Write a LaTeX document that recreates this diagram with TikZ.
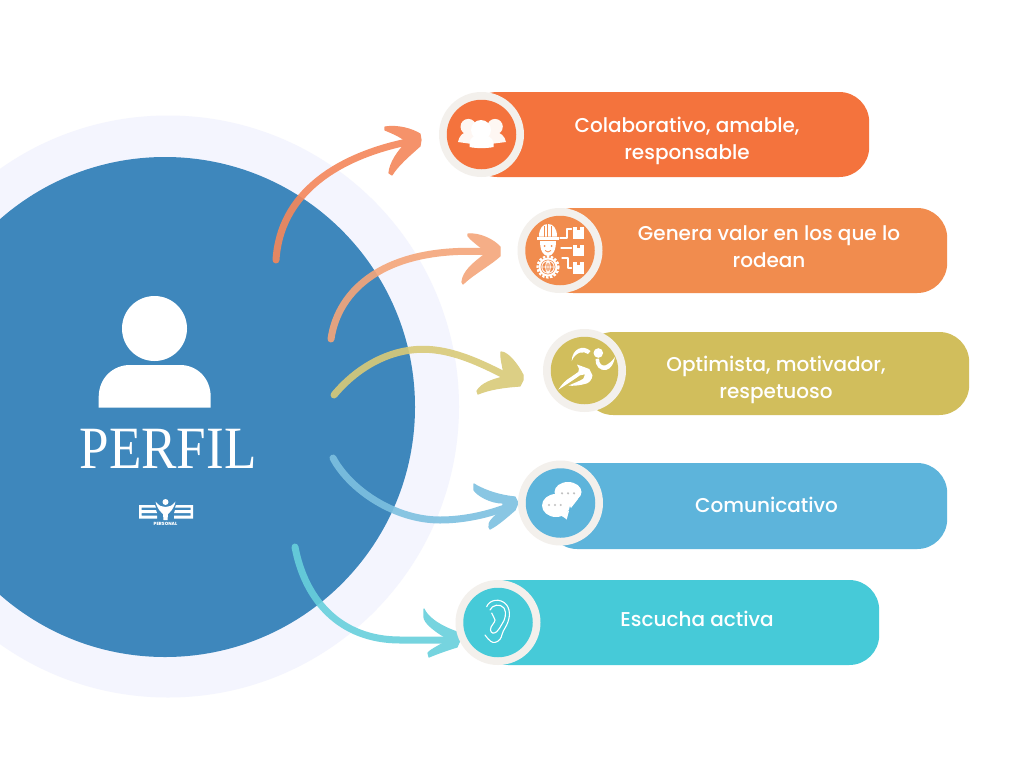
\documentclass[tikz,border=0pt]{standalone}
\usepackage{fontspec}
\setmainfont{Poppins Medium}
\newfontfamily\slabfont{Liberation Serif}
\usetikzlibrary{calc}
\definecolor{paleC}{HTML}{F4F5FE}
\definecolor{blueC}{HTML}{3E87BC}
\definecolor{ringC}{HTML}{F3F0EC}
\definecolor{pillA}{HTML}{F4733D}
\definecolor{pillB}{HTML}{F18C4E}
\definecolor{pillC}{HTML}{D1BE5C}
\definecolor{pillD}{HTML}{5DB4DB}
\definecolor{pillE}{HTML}{46CAD8}
\definecolor{arrA}{HTML}{F5875A}
\definecolor{arrB}{HTML}{F4A67A}
\definecolor{arrC}{HTML}{D9CA78}
\definecolor{arrD}{HTML}{7DC0E0}
\definecolor{arrE}{HTML}{68D0DC}
\tikzset{
  x=1pt,y=-1pt,
  pill/.style={rectangle,rounded corners=30pt,inner sep=0pt,minimum height=#1,anchor=west},
  ring/.style={circle,fill=ringC,inner sep=0pt,minimum size=85pt},
  disc/.style={circle,inner sep=0pt,minimum size=69.5pt},
  label/.style={text=white,font=\fontsize{20}{27}\selectfont,align=center,inner sep=0pt},
  shaft/.style={line width=7pt,line cap=round},
  headfill/.style={fill=#1,draw=#1,line width=1.2pt,line join=round},
  iconline/.style={draw=white,line width=1.1pt,line cap=round,line join=round},
  arrowgroup/.style={transparency group,opacity=.9},
}
\begin{document}
\begin{tikzpicture}
\useasboundingbox (0,0) rectangle (1024,768);
\fill[white] (0,0) rectangle (1024,768);
% big circles
\begin{scope}
\clip (0,0) rectangle (1024,768);
\node[circle,fill=paleC,inner sep=0pt,minimum size=582pt] (halo) at (168,406.5) {};
\node[circle,fill=blueC,inner sep=0pt,minimum size=500pt] (main) at (165,407) {};
\end{scope}
% person
\node[circle,fill=white,inner sep=0pt,minimum size=65pt] (head) at (154.5,328.5) {};
\fill[white] (98.7,407.5) -- (98.7,397) .. controls (98.7,378) and (113,365) .. (130,365) -- (180,365) .. controls (197,365) and (210.7,378) .. (210.7,397) -- (210.7,407.5) -- cycle;
\node[text=white,inner sep=0pt,xscale=.885,font=\slabfont\fontsize{60}{60}\selectfont] (perfil) at (168,449) {PERFIL};
% logo
\fill[white] (139,505) -- (155,505) -- (156,507.5) -- (141.5,507.5) -- (141.5,510) -- (156,510) -- (157,513) -- (141.5,513) -- (141.5,515.5) -- (157,515.5) -- (157,518.5) -- (139,518.5) -- cycle;
\fill[white] (193,505) -- (176,505) -- (175,507.5) -- (190.5,507.5) -- (190.5,510) -- (175,510) -- (174,513) -- (190.5,513) -- (190.5,515.5) -- (174,515.5) -- (174,518.5) -- (193,518.5) -- cycle;
\fill[white] (165.5,502) circle (3);
\fill[white] (155.5,501.5) .. controls (159,506) and (162,507) .. (165.5,507) .. controls (169,507) and (172,506) .. (175.5,501.5) .. controls (174,509) and (170,512) .. (168,514) -- (167.5,520) -- (163.5,520) -- (163,514) .. controls (161,512) and (157,509) .. (155.5,501.5) -- cycle;
\node[text=white,inner sep=0pt,font=\fontsize{4.5}{5}\selectfont\bfseries] (logotext) at (165.5,524) {PERSONAL};
% arrows
\coordinate (a1s) at (276,260); \coordinate (a1e) at (412,141);
\begin{scope}[arrowgroup]
\draw[arrA,shaft] (a1s) .. controls (280,195) and (335,156) .. (a1e);
\path[headfill=arrA] (385,127) .. controls (398,125) and (412,129) .. (420,134) -- (421,140) -- (420,146) .. controls (410,155) and (398,165) .. (392,175) -- (389,173) .. controls (390,163) and (397,152) .. (407,142) .. controls (400,136) and (392,133) .. (385,130) -- cycle;
\end{scope}
\coordinate (a2s) at (331,339); \coordinate (a2e) at (490,252);
\begin{scope}[arrowgroup]
\draw[arrB,shaft] (a2s) .. controls (338,290) and (385,245) .. (a2e);
\path[headfill=arrB] (468,234) .. controls (480,233) and (494,240) .. (500,247) -- (500,256) .. controls (490,265) and (472,275) .. (463,284) -- (462,282) .. controls (463,272) and (472,264) .. (484,255) -- (484,250) .. controls (478,245) and (471,240) .. (468,236) -- cycle;
\end{scope}
\coordinate (a3s) at (334,395); \coordinate (a3m) at (435,350); \coordinate (a3e) at (508,377);
\begin{scope}[arrowgroup]
\draw[arrC,shaft] (a3s) .. controls (358,366) and (395,345) .. (a3m) .. controls (460,353) and (485,365) .. (a3e);
\path[headfill=arrC] (501,352) .. controls (508,352) and (518,365) .. (523,375) -- (523,380) -- (520,386) .. controls (505,387) and (490,389) .. (478,394) -- (477,391) .. controls (482,383) and (492,380) .. (503,377) .. controls (505,371) and (500,360) .. (501,352) -- cycle;
\end{scope}
\coordinate (a4s) at (333,458); \coordinate (a4m) at (440,520); \coordinate (a4e) at (510,506);
\begin{scope}[arrowgroup]
\draw[arrD,shaft] (a4s) .. controls (350,490) and (395,520) .. (a4m) .. controls (465,520) and (490,514) .. (a4e);
\path[headfill=arrD] (474,484) .. controls (480,488) and (495,495) .. (515,497) -- (518,503) -- (515,510) .. controls (508,516) and (498,525) .. (490,529) -- (489,527) .. controls (488,522) and (493,517) .. (503,510) -- (503,503) .. controls (490,503) and (477,495) .. (474,490) -- cycle;
\end{scope}
\coordinate (a5s) at (295,547); \coordinate (a5m) at (400,640); \coordinate (a5e) at (450,640);
\begin{scope}[arrowgroup]
\draw[arrE,shaft] (a5s) .. controls (305,600) and (340,640) .. (a5m) -- (a5e);
\path[headfill=arrE] (424,609) .. controls (427,616) and (437,625) .. (457,632) -- (461,638) -- (457,647) .. controls (447,650) and (436,654) .. (429,657) -- (428,653) .. controls (430,650) and (437,647) .. (445,642) -- (445,637) .. controls (433,630) and (424,622) .. (424,617) -- cycle;
\end{scope}
% pills
\node[pill=85pt,fill=pillA,minimum width=402pt] (p1) at (467,134.5) {};
\node[pill=85pt,fill=pillB,minimum width=404pt] (p2) at (543,250.5) {};
\node[pill=83pt,fill=pillC,minimum width=386pt] (p3) at (583,373.5) {};
\node[pill=86pt,fill=pillD,minimum width=400pt] (p4) at (547,506) {};
\node[pill=85pt,fill=pillE,minimum width=401pt] (p5) at (478,622.5) {};
% rings
\node[ring] (r1) at (481.5,134.5) {}; \node[disc,fill=pillA] (d1) at (481.5,134.5) {};
\node[ring] (r2) at (560,250.5) {};   \node[disc,fill=pillB] (d2) at (560,250.5) {};
\node[ring,minimum size=83pt] (r3) at (584.5,370.5) {}; \node[disc,minimum size=67.5pt,fill=pillC] (d3) at (584.5,370.5) {};
\node[ring] (r4) at (560.5,503) {};   \node[disc,fill=pillD] (d4) at (560.5,503) {};
\node[ring] (r5) at (498,622.5) {};   \node[disc,fill=pillE] (d5) at (498,622.5) {};
% labels
\node[label] (t1) at (687,141) {Colaborativo, amable,\\responsable};
\node[label] (t2) at (769,247) {Genera valor en los que lo\\rodean};
\node[label] (t3) at (776,380) {Optimista, motivador,\\respetuoso};
\node[label] (t4) at (766.5,505) {Comunicativo};
\node[label] (t5) at (697,619) {Escucha activa};
% icon 1: group
\fill[white!94!pillA] (468.3,126.7) circle (7.8) (495,126.7) circle (7.8);
\fill[white!94!pillA] (458,142) .. controls (459,136) and (463,132) .. (468,132) -- (495,132) .. controls (500,132) and (505,136) .. (506,142) -- (490,144) -- (472,144) -- cycle;
\fill[white] (481,130) circle (10);
\fill[white] (469.5,147) -- (469.5,143) .. controls (470,137) and (475,135) .. (481,135) .. controls (487,135) and (493,137) .. (493.5,143) -- (493.5,147) .. controls (487,148.5) and (476,148.5) .. (469.5,147) -- cycle;
% icon 2: worker
\fill[white] (537,237) rectangle (558.5,239.5);
\fill[white] (539,236.5) .. controls (539,228) and (543,224) .. (548,224) .. controls (553,224) and (557,228) .. (557,236.5) -- cycle;
\draw[pillB,line width=.8pt] (544.5,236.5) -- (544.5,226) (551,236.5) -- (551,226) (547.8,236.5) -- (547.8,224);
\fill[white] (540,241) .. controls (540,250) and (543,256) .. (548,256) .. controls (553,256) and (556,250) .. (556,241) -- cycle;
\fill[pillB] (544.5,246) circle (1) (551.5,246) circle (1);
\draw[pillB,line width=.8pt] (545,250.5) .. controls (547,252.5) and (549,252.5) .. (551,250.5);
\draw[white,line width=2.2pt,dash pattern=on 2.4pt off 1.6pt] (548,267) circle (10.5);
\fill[white] (548,267) circle (9.5);
\fill[pillB] (548,267) circle (7.4);
\draw[white,line width=.9pt] (548,267) circle (6.2) (548,260.8) -- (548,273.2) (541.8,267) -- (554.2,267) (548,260.8) .. controls (544.8,263) and (544.8,271) .. (548,273.2) (548,260.8) .. controls (551.2,263) and (551.2,271) .. (548,273.2);
\draw[iconline] (560,238) -- (567,238) -- (567,229) -- (571.5,229)
  (561,248) -- (571.5,248) (562,258) -- (568,258) -- (568,268) -- (571.5,268);
\foreach \yy in {227,244.5,262}{
 \fill[white] (572.5,\yy) rectangle +(11.5,11.5);
 \fill[pillB] (576.5,\yy) rectangle +(3.5,3);
}
% icon 3: runner
\fill[white] (598.3,353) circle (4.8);
\fill[white] (571.7,361) .. controls (572,349) and (583,344) .. (590.5,351) -- (588,354) .. controls (584,351) and (576,351) .. (571.7,361) -- cycle;
\fill[white] (595.5,359) -- (599,358.5) .. controls (599,364) and (602,366) .. (605,365.5) .. controls (609,364) and (612,361) .. (615,357) .. controls (614,363) and (611,369) .. (606,370) .. controls (600,371) and (595,366) .. (595.5,359) -- cycle;
\fill[white] (577,364.5) -- (589.3,369) -- (592.5,375.3) .. controls (592,380) and (589,382.5) .. (586.7,383.5) .. controls (580,385.5) and (574,386) .. (568.3,385.7) .. controls (574,383) and (580,381) .. (583.3,378.7) -- (585,374.3) -- (580,375.3) .. controls (572,381) and (564,386) .. (558.3,389.7) .. controls (562,384) and (566,380) .. (570,377.7) -- (578.3,372) -- (579,368.7) -- cycle;
% icon 4: chat
\fill[white] (568,492) ellipse (13.5 and 10);
\fill[white] (556,505.5) ellipse (14 and 11.5);
\fill[white] (558,514) -- (569,511) -- (566.7,519.5) .. controls (565,518) and (562,516) .. (558,514) -- cycle;
\fill[white] (565,498) -- (578,499) -- (571,508) -- cycle;
\fill[gray!50] (562,493.3) circle (1.2) (568,493.3) circle (1.2) (574,493.3) circle (1.2);
\fill[gray!50] (549,505) circle (1.2) (555,505) circle (1.2) (560.7,505) circle (1.2);
% icon 5: ear
\draw[iconline] (486.7,606.7) .. controls (489,600) and (500,597) .. (506.7,605) .. controls (511,611) and (510,620) .. (505,628) .. controls (502,632) and (502,637) .. (500,639.3) .. controls (497,643) and (493,643) .. (491,641.5) .. controls (489,640) and (487,638) .. (485,635);
\draw[iconline] (490,610) .. controls (492,605) and (500,603) .. (504,608) .. controls (507,613) and (505,620) .. (502,624) .. controls (500,627) and (499,630) .. (496.7,631.7) .. controls (494,634) and (491,633.5) .. (490.5,630) .. controls (490,626) and (495,623) .. (495,620) .. controls (495,617) and (492,616) .. (491.7,613);
\end{tikzpicture}
\end{document}
